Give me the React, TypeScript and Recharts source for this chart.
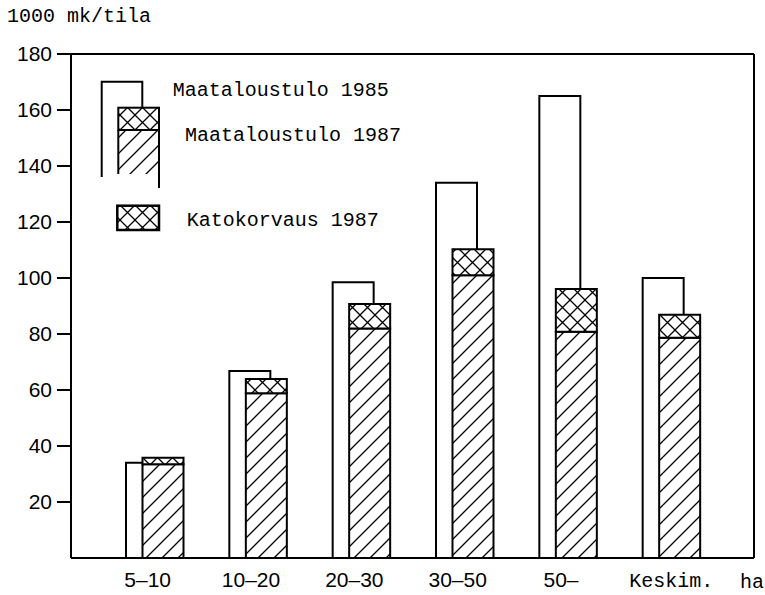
import React from 'react';
import { BarChart, Bar, XAxis, YAxis, ReferenceLine, Legend, Label } from 'recharts';

// values, 1000 mk per farm
const categories = ['5–10', '10–20', '20–30', '30–50', '50–', 'Keskim.'];
const tulo1985 = [34, 66.8, 98.5, 134, 165, 100];
const tulo1987 = [33.5, 58.8, 82, 101, 80.8, 78.7];
const katokorvaus1987 = [2.3, 5.1, 8.7, 9.3, 15.3, 8.2];
const yTicks = [20, 40, 60, 80, 100, 120, 140, 160, 180];

const data = categories.map((name, i) => ({
    name,
    t85: tulo1985[i],
    t87: tulo1987[i],
    kato: katokorvaus1987[i],
}));

const MONO = '"Liberation Mono", "DejaVu Sans Mono", monospace';
const SANS = '"Liberation Sans", Arial, sans-serif';
const MONO_SIZE = 20;

const Patterns = ({ prefix }: { prefix: string }) => (
    <defs>
        <pattern id={prefix + 'hatch'} patternUnits="userSpaceOnUse" width={16} height={16}>
            <rect width={16} height={16} fill="#fff" />
            <path d="M0,16 L16,0 M-4,4 L4,-4 M12,20 L20,12" stroke="#000" strokeWidth={1.3} />
        </pattern>
        <pattern id={prefix + 'cross'} patternUnits="userSpaceOnUse" width={15} height={15}>
            <rect width={15} height={15} fill="#fff" />
            <path d="M0,0 L15,15 M0,15 L15,0" stroke="#000" strokeWidth={1.3} />
        </pattern>
    </defs>
);

const LegendBox = () => (
    <svg width={300} height={170} style={{ display: 'block', overflow: 'visible' }}>
        <Patterns prefix="lg-" />
        <path d="M11.7,107 V11.7 H52.3 V37.7" fill="none" stroke="#000" strokeWidth={2} />
        <rect x={28.3} y={60} width={40.7} height={44} fill="url(#lg-hatch)" />
        <rect x={28.3} y={37.7} width={40.7} height={22.3} fill="url(#lg-cross)" stroke="#000" strokeWidth={2} />
        <path d="M28.3,60 V104 M69,60 V118" fill="none" stroke="#000" strokeWidth={2} />
        <rect x={27.3} y={135.7} width={41.7} height={24.3} fill="url(#lg-cross)" stroke="#000" strokeWidth={2.5} />
        <g fontFamily={MONO} fontSize={MONO_SIZE} fill="#000">
            <text x={82.7} y={25.7}>Maataloustulo 1985</text>
            <text x={95} y={71}>Maataloustulo 1987</text>
            <text x={96.7} y={155.7}>Katokorvaus 1987</text>
        </g>
    </svg>
);

const XTick = (props: any) => {
    const { x, y, payload } = props;
    const isMono = payload.value === 'Keskim.';
    return (
        <text
            x={isMono ? x : x - 7}
            y={y + 15}
            textAnchor="middle"
            fontFamily={isMono ? MONO : SANS}
            fontSize={isMono ? MONO_SIZE : 21}
            fill="#000"
        >
            {payload.value}
        </text>
    );
};

const App = () => (
    <div style={{ position: 'absolute', left: 0, top: 0, background: '#fff' }}>
        <BarChart
            width={765}
            height={595}
            data={data}
            margin={{ top: 54, right: 10, bottom: 0, left: 0 }}
            barSize={41}
            barGap={-24.5}
        >
            <Patterns prefix="ch-" />
            <XAxis
                dataKey="name"
                height={37}
                padding={{ left: 32, right: 31 }}
                interval={0}
                tickSize={0}
                tickMargin={14}
                tickLine={false}
                axisLine={{ stroke: '#000', strokeWidth: 2 }}
                tick={<XTick />}
            >
                <Label
                    content={() => (
                        <text x={740} y={588} fontFamily={MONO} fontSize={MONO_SIZE} fill="#000">ha</text>
                    )}
                />
            </XAxis>
            <YAxis
                width={71}
                domain={[0, 180]}
                ticks={yTicks}
                interval={0}
                tickSize={14}
                tickMargin={5}
                tick={{ fill: '#000', fontSize: 21, fontFamily: SANS }}
                tickLine={{ stroke: '#000', strokeWidth: 2 }}
                axisLine={{ stroke: '#000', strokeWidth: 2 }}
            >
                <Label
                    content={() => (
                        <text x={7} y={22} fontFamily={MONO} fontSize={MONO_SIZE} fill="#000">1000 mk/tila</text>
                    )}
                />
            </YAxis>
            <YAxis
                yAxisId="r"
                orientation="right"
                width={1}
                domain={[0, 180]}
                tick={false}
                tickLine={false}
                axisLine={{ stroke: '#000', strokeWidth: 2 }}
            />
            <ReferenceLine y={180} stroke="#000" strokeWidth={2} />
            <Legend
                layout="vertical"
                align="center"
                verticalAlign="middle"
                wrapperStyle={{ left: 90, top: 70, width: 300, height: 170 }}
                content={() => <LegendBox />}
            />
            <Bar dataKey="t85" name="Maataloustulo 1985" stackId="a" fill="#fff" stroke="#000" strokeWidth={2} isAnimationActive={false} />
            <Bar dataKey="t87" name="Maataloustulo 1987" stackId="b" fill="url(#ch-hatch)" stroke="#000" strokeWidth={2} isAnimationActive={false} />
            <Bar dataKey="kato" name="Katokorvaus 1987" stackId="b" fill="url(#ch-cross)" stroke="#000" strokeWidth={2} isAnimationActive={false} />
        </BarChart>
    </div>
);

export default App;
